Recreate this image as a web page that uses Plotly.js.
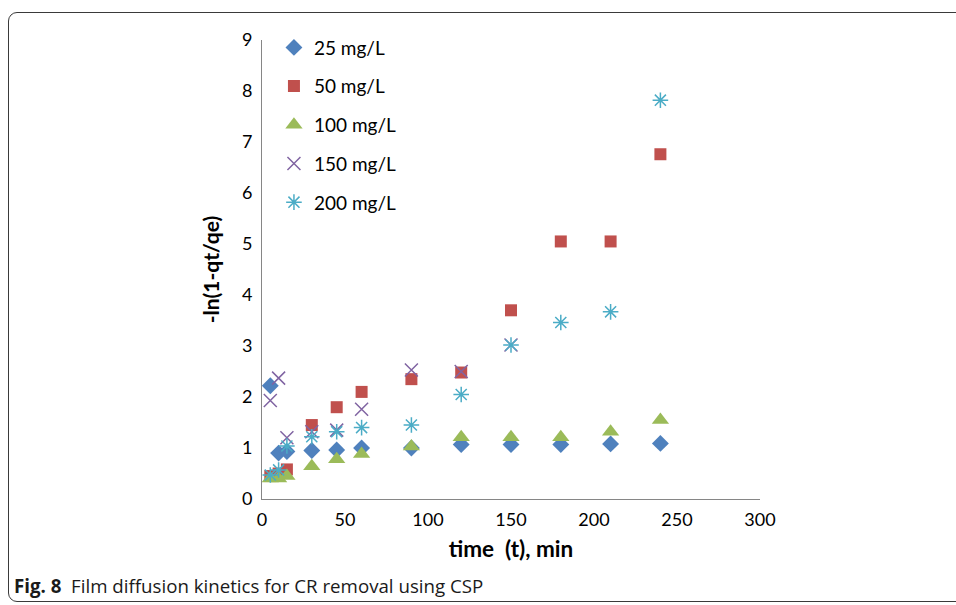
<!DOCTYPE html>
<html>
<head>
<meta charset="utf-8">
<script src="https://cdn.plot.ly/plotly-3.0.1.min.js"></script>
<style>
  html, body { margin: 0; padding: 0; background: #fff; }
  #wrap { position: relative; width: 956px; height: 605px; overflow: hidden; }
  #frame { position: absolute; left: 8px; top: 12px; width: 1000px; height: 590px;
           border: 1.6px solid #3a3a3a; border-radius: 9px; box-sizing: border-box; }
  #chart { position: absolute; left: 0; top: 0; width: 956px; height: 605px; }
</style>
</head>
<body>
<div id="wrap">
  <div id="frame"></div>
  <div id="chart"></div>
</div>
<script>
// Data
const time = [5, 10, 15, 30, 45, 60, 90, 120, 150, 180, 210, 240];
const c25  = [2.22, 0.90, 0.93, 0.95, 0.96, 1.00, 1.00, 1.07, 1.07, 1.07, 1.08, 1.09];
const c50  = [0.45, 0.50, 0.58, 1.45, 1.80, 2.10, 2.35, 2.48, 3.70, 5.05, 5.05, 6.76];
const c100 = [0.40, 0.40, 0.45, 0.64, 0.78, 0.88, 1.03, 1.21, 1.21, 1.21, 1.32, 1.55];
const time150 = [5, 10, 15, 30, 45, 60, 90, 120, 150];
const c150 = [1.93, 2.37, 1.20, 1.32, 1.35, 1.76, 2.53, 2.50, 3.02];
const c200 = [0.47, 0.57, 1.04, 1.22, 1.32, 1.40, 1.45, 2.05, 3.02, 3.46, 3.67, 7.82];
const seriesNames = ['25 mg/L', '50 mg/L', '100 mg/L', '150 mg/L', '200 mg/L'];
const xTicks = [0, 50, 100, 150, 200, 250, 300];
const yTicks = [0, 1, 2, 3, 4, 5, 6, 7, 8, 9];

const fnt = 'Lato, "Open Sans", sans-serif';
const traces = [
  {x: time, y: c25, name: seriesNames[0], legendgroup: 'a',
   marker: {symbol: 'diamond', size: 13, color: '#4F81BD'}},
  {x: time, y: c50, name: seriesNames[1], legendgroup: 'b',
   marker: {symbol: 'square', size: 12, color: '#C0504D'}},
  {x: time, y: c100, name: seriesNames[2], legendgroup: 'c',
   marker: {symbol: 'triangle-up', size: 15, color: '#9BBB59'}},
  {x: time150, y: c150, name: seriesNames[3], legendgroup: 'd',
   marker: {symbol: 'x-thin-open', size: 13, color: '#8064A2', line: {width: 1.5, color: '#8064A2'}}},
  {x: time, y: c200, name: seriesNames[4], legendgroup: 'e',
   marker: {symbol: 'asterisk-open', size: 13, color: '#4BACC6', line: {width: 1.5, color: '#4BACC6'}}}
].map(t => Object.assign({type: 'scatter', mode: 'markers', cliponaxis: false}, t));

const layout = {
  width: 956, height: 605,
  margin: {l: 262, r: 196, t: 40, b: 106},
  paper_bgcolor: 'rgba(0,0,0,0)', plot_bgcolor: 'rgba(0,0,0,0)',
  font: {family: fnt, size: 18, color: '#000'},
  showlegend: true,
  legend: {x: 0.024, y: 1.025, xanchor: 'left', yanchor: 'top',
           bgcolor: 'rgba(0,0,0,0)', font: {family: fnt, size: 19},
           tracegroupgap: 11, itemwidth: 30},
  xaxis: {range: [0, 300], tickvals: xTicks, ticktext: xTicks.map(String),
          showgrid: false, zeroline: false, showline: true, linecolor: '#868686', linewidth: 1,
          ticks: '', tickfont: {family: fnt, size: 18}, ticklabelstandoff: 4,
          title: {text: 'time  (t), min', font: {family: fnt, size: 22.5, weight: 'bold'}, standoff: 12}},
  yaxis: {range: [0, 9], tickvals: yTicks, ticktext: yTicks.map(String),
          showgrid: false, zeroline: false, showline: true, linecolor: '#868686', linewidth: 1,
          ticks: '', tickfont: {family: fnt, size: 18}, ticklabelstandoff: 5,
          title: {text: '-ln(1-qt/qe)', font: {family: fnt, size: 21, weight: 'bold'}, standoff: 16}},
  annotations: [{
    xref: 'paper', yref: 'paper', x: (12 - 262) / 498, y: (499 - 585) / 459,
    xanchor: 'left', yanchor: 'middle', showarrow: false,
    text: '<b>Fig. 8</b>  Film diffusion kinetics for CR removal using CSP',
    font: {family: '"Open Sans", "Noto Sans", sans-serif', size: 18.7, color: '#1a1a1a'}
  }]
};

Plotly.newPlot('chart', traces, layout, {staticPlot: true, displayModeBar: false});
</script>
</body>
</html>
